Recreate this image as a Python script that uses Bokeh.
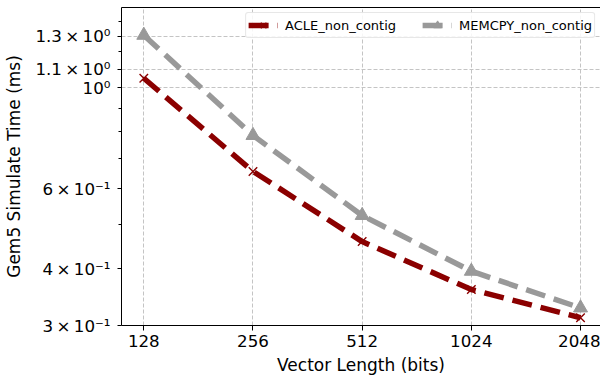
from bokeh.plotting import figure
from bokeh.models import Range1d, FixedTicker, LogAxis, Legend, LegendItem
from bokeh.embed import file_html
from bokeh.resources import INLINE

vector_lengths = [128, 256, 512, 1024, 2048]
acle_non_contig = [1.05, 0.655, 0.459, 0.360, 0.312]
memcpy_non_contig = [1.306, 0.786, 0.524, 0.395, 0.328]
x_tick_labels = ["128", "256", "512", "1024", "2048"]
y_ticks = [0.3, 0.4, 0.6, 1.0, 1.1, 1.3]
y_tick_labels = ["3\u2009×\u200910⁻¹", "4\u2009×\u200910⁻¹", "6\u2009×\u200910⁻¹",
                 "10⁰", "1.1\u2009×\u200910⁰", "1.3\u2009×\u200910⁰"]
y_minor_ticks = [0.5, 0.7, 0.8, 0.9, 1.2, 1.4]
y_grid_ticks = [1.0, 1.1, 1.3]

FONT = "DejaVu Sans"

p = figure(width=600, height=377, x_axis_type="log", y_axis_type="log",
           x_range=Range1d(111.1, 2325), y_range=Range1d(0.3, 1.503),
           output_backend="svg", toolbar_location=None,
           min_border_left=121, min_border_right=0, min_border_top=7, min_border_bottom=52)

p.outline_line_color = None
p.background_fill_color = "white"

# x axis
xa = p.xaxis[0]
xa.ticker = FixedTicker(ticks=vector_lengths)
xa.major_label_overrides = {v: s for v, s in zip(vector_lengths, x_tick_labels)}
xa.axis_label = "Vector Length (bits)"
xa.axis_label_text_font = FONT
xa.axis_label_text_font_size = "17px"
xa.axis_label_text_font_style = "normal"
xa.axis_label_text_color = "black"
xa.axis_label_standoff = 5
xa.major_label_text_font = FONT
xa.major_label_text_font_size = "16.7px"
xa.major_label_text_color = "black"
xa.major_label_standoff = 4
xa.major_tick_out = 5
xa.major_tick_in = 0
xa.minor_tick_line_color = None
xa.axis_line_color = "black"

# y axis
ya = p.yaxis[0]
ya.ticker = FixedTicker(ticks=y_ticks, minor_ticks=y_minor_ticks)
ya.major_label_overrides = {v: s for v, s in zip(y_ticks, y_tick_labels)}
ya.axis_label = "Gem5 Simulate Time (ms)"
ya.axis_label_text_font = FONT
ya.axis_label_text_font_size = "17px"
ya.axis_label_text_font_style = "normal"
ya.axis_label_text_color = "black"
ya.axis_label_standoff = 8
ya.major_label_text_font = FONT
ya.major_label_text_font_size = "16.7px"
ya.major_label_text_color = "black"
ya.major_label_standoff = 7
ya.major_tick_out = 4
ya.major_tick_in = 0
ya.minor_tick_out = 3
ya.minor_tick_in = 0
ya.axis_line_color = "black"

# top spine
top = LogAxis(ticker=FixedTicker(ticks=[]), major_tick_out=0, major_tick_in=0,
              minor_tick_out=0, minor_tick_in=0, major_label_text_font_size="0px",
              axis_line_color="black")
p.add_layout(top, "above")

# grids
for g in (p.xgrid[0], p.ygrid[0]):
    g.grid_line_color = "#c4c4c4"
    g.grid_line_dash = "4 2"
    g.grid_line_width = 1
p.ygrid[0].ticker = FixedTicker(ticks=y_grid_ticks)

red = "#8b0000"
gray = "#999999"

l1 = p.line(vector_lengths, acle_non_contig, line_color=red, line_width=5.5,
            line_dash="20 9", line_cap="butt")
s1 = p.scatter(vector_lengths, acle_non_contig, marker="x", size=12,
               line_color=red, line_width=1.4)
l2 = p.line(vector_lengths, memcpy_non_contig, line_color=gray, line_width=5.5,
            line_dash="20 9", line_cap="butt")
s2 = p.scatter(vector_lengths, memcpy_non_contig, marker="triangle", size=14,
               fill_color=gray, line_color=gray)

legend = Legend(items=[LegendItem(label="ACLE_non_contig", renderers=[l1, s1]),
                       LegendItem(label="MEMCPY_non_contig", renderers=[l2, s2])],
                orientation="horizontal", location="top_right")
legend.label_text_font = FONT
legend.label_text_font_size = "13px"
legend.label_text_color = "black"
legend.glyph_width = 30
legend.glyph_height = 20
legend.label_height = 18
legend.label_standoff = 7
legend.spacing = 26
legend.padding = 2
legend.margin = 5
legend.border_line_color = "#d0d0d0"
legend.border_radius = 3
legend.background_fill_alpha = 0.85
p.add_layout(legend, "center")

open("out.html", "w").write(file_html(p, INLINE))
